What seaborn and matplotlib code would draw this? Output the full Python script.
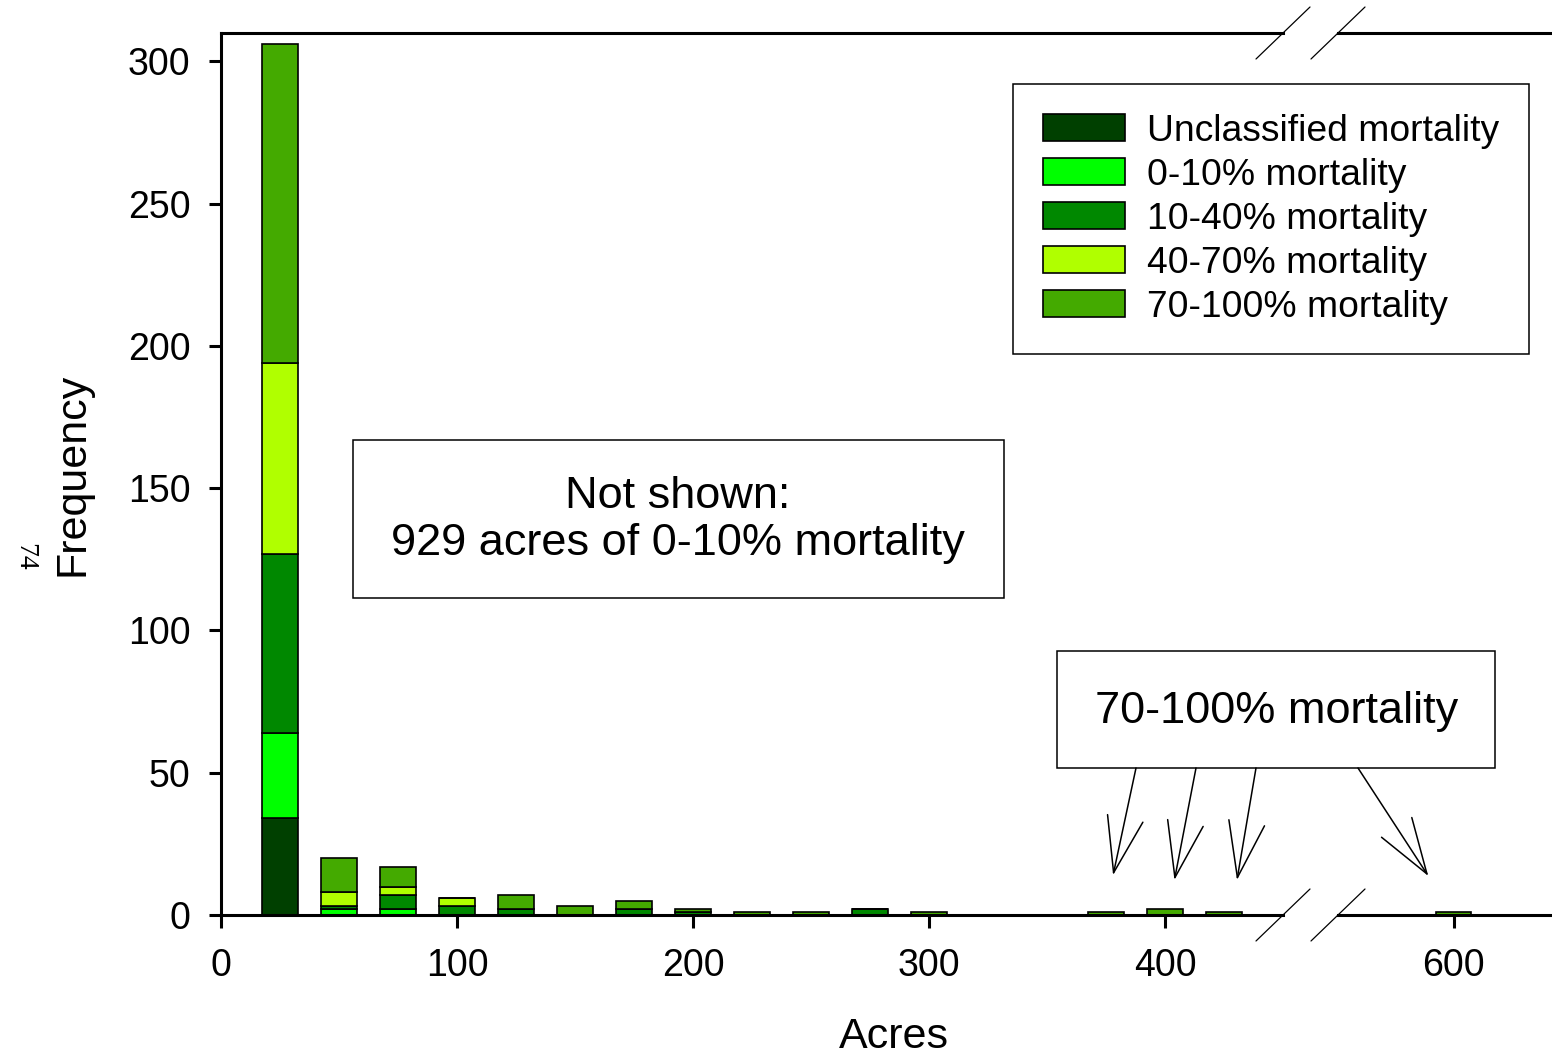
import pandas as pd
import seaborn as sns
import matplotlib.pyplot as plt
from matplotlib.patches import Patch, Rectangle
from matplotlib.lines import Line2D

sns.set_style('ticks')
plt.rcParams['font.family'] = ['Liberation Sans', 'DejaVu Sans']
plt.rcParams['text.color'] = 'black'
plt.rcParams['axes.labelcolor'] = 'black'
plt.rcParams['xtick.color'] = 'black'
plt.rcParams['ytick.color'] = 'black'
plt.rcParams['axes.edgecolor'] = 'black'

# bin centres (acres), 25 acre bins
acres = [25, 50, 75, 100, 125, 150, 175, 200, 225, 250, 275, 300, 375, 400, 425, 600]
unclassified = [34, 0, 0, 0, 0, 0, 0, 0, 0, 0, 0, 0, 0, 0, 0, 0]
mort_0_10 = [30, 2, 2, 0, 0, 0, 0, 0, 0, 0, 0, 0, 0, 0, 0, 0]
mort_10_40 = [63, 1, 5, 3, 2, 0, 2, 1, 0, 0, 2, 0, 0, 0, 0, 0]
mort_40_70 = [67, 5, 3, 3, 0, 0, 0, 0, 0, 0, 0, 0, 0, 0, 0, 0]
mort_70_100 = [112, 12, 7, 0, 5, 3, 3, 1, 1, 1, 0, 1, 1, 2, 1, 1]

classes = ['Unclassified mortality', '0-10% mortality', '10-40% mortality',
           '40-70% mortality', '70-100% mortality']
colors = ['#004000', '#00ff00', '#008800', '#b0ff00', '#44aa00']
series = [unclassified, mort_0_10, mort_10_40, mort_40_70, mort_70_100]

rows = []
for name, vals in zip(classes, series):
    for a, v in zip(acres, vals):
        rows.append((a, name, v))
df = pd.DataFrame(rows, columns=['acres', 'cls', 'count'])

W, H = 1552, 1057
def fx(x):
    return x / W
def fy(y):
    return 1 - y / H

fig = plt.figure(figsize=(W / 100, H / 100), dpi=100)
ax = fig.add_axes([fx(221), fy(915), (1283 - 221) / W, (915 - 33) / H])
ax2 = fig.add_axes([fx(1338), fy(915), (W - 1338) / W, (915 - 33) / H], sharey=ax)

# seaborn stacks the first hue level on top
order = classes[::-1]
pal = dict(zip(classes, colors))
for a in (ax, ax2):
    sns.histplot(data=df, x='acres', weights='count', hue='cls', hue_order=order,
                 palette=pal, multiple='stack', binwidth=25, binrange=(12.5, 612.5),
                 shrink=0.6, alpha=1, edgecolor='black', linewidth=1.2,
                 legend=False, ax=a)
    a.set_xlabel('')
    a.set_ylabel('')
    a.tick_params(axis='both', length=9, width=2.2, labelsize=27, pad=13)
    a.tick_params(axis='x', pad=15)
    for s in a.spines.values():
        s.set_linewidth(2.2)

ax.set_xlim(0, 450)
ax.set_ylim(0, 310)
ax.set_xticks([0, 100, 200, 300, 400])
ax.set_yticks([0, 50, 100, 150, 200, 250, 300])
ax.spines['right'].set_visible(False)
ax.set_ylabel('Frequency', fontsize=31, va='center')
ax.yaxis.set_label_coords(-0.140, 0.5)

ax2.set_xlim(550, 642.4)
ax2.set_xticks([600])
ax2.spines['left'].set_visible(False)
ax2.spines['right'].set_visible(False)
ax2.tick_params(axis='y', left=False, labelleft=False)

fig.text(fx(894), fy(1037), 'Acres', fontsize=31, ha='center', va='center')
fig.text(fx(25), fy(557), '74', rotation=-90, family='Liberation Serif',
         fontsize=20, ha='center', va='center')

# axis break marks
for xc in (1283, 1338):
    for yc in (33, 915):
        fig.add_artist(Line2D([fx(xc - 27), fx(xc + 27)], [fy(yc + 26), fy(yc - 26)],
                              transform=fig.transFigure, color='black', lw=0.9))

# legend
handles = [Patch(facecolor=c, edgecolor='black', linewidth=1.2) for c in colors]
leg = fig.legend(handles, classes, loc='upper left', bbox_to_anchor=(fx(1013), fy(84)),
                 bbox_transform=fig.transFigure, borderaxespad=0, fontsize=26.8,
                 frameon=True, fancybox=False, edgecolor='black', framealpha=1,
                 handlelength=2.2, handleheight=0.72, handletextpad=0.6,
                 labelspacing=0.24, borderpad=0.8)
leg.get_frame().set_linewidth(1.1)

# text boxes
fig.add_artist(Rectangle((fx(353), fy(598)), (1004 - 353) / W, (598 - 440) / H,
                         transform=fig.transFigure, fill=False, ec='black', lw=1.1))
fig.text(fx(678), fy(496), 'Not shown:', fontsize=32.5, ha='center', va='center')
fig.text(fx(678), fy(543), '929 acres of 0-10% mortality', fontsize=32.5,
         ha='center', va='center')

fig.add_artist(Rectangle((fx(1057), fy(768)), (1495 - 1057) / W, (768 - 651) / H,
                         transform=fig.transFigure, fill=False, ec='black', lw=1.1))
fig.text(fx(1277), fy(712), '70-100% mortality', fontsize=32.5, ha='center', va='center')

# arrows from the box to the large-area bars
arrow_starts = [1136, 1196, 1256, 1358]
arrow_tips = [(ax, 378, 14), (ax, 404, 12.3), (ax, 430.5, 12.3), (ax2, 589, 13.7)]
for sx, (a, tx, ty) in zip(arrow_starts, arrow_tips):
    a.annotate('', xy=(tx, ty), xycoords='data', xytext=(fx(sx), fy(768)),
               textcoords='figure fraction', annotation_clip=False,
               arrowprops=dict(arrowstyle='->,head_length=2.0,head_width=0.65',
                               mutation_scale=20, lw=1.1, color='black',
                               shrinkA=0, shrinkB=0))

fig.savefig('out.png', dpi=100, facecolor='white')
